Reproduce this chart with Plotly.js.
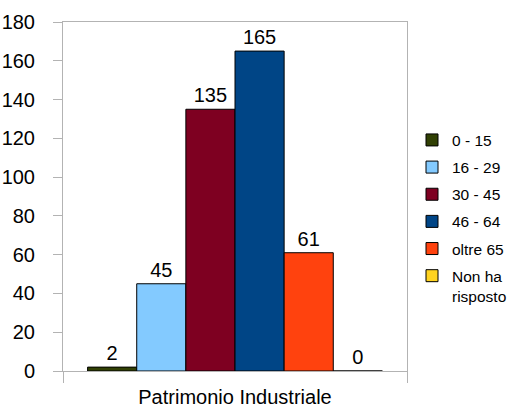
<!DOCTYPE html>
<html>
<head>
<meta charset="utf-8">
<script src="https://cdn.plot.ly/plotly-3.0.1.min.js"></script>
<style>html,body{margin:0;padding:0;background:#fff;}#chart{width:515px;height:412px;}</style>
</head>
<body>
<div id="chart"></div>
<script>
const categories = ["Patrimonio Industriale"];
const seriesNames = ["0 - 15", "16 - 29", "30 - 45", "46 - 64", "oltre 65", "Non ha<br>risposto"];
const seriesValues = [2, 45, 135, 165, 61, 0];
const seriesColors = ["#314004", "#83caff", "#7e0021", "#004586", "#ff420e", "#ffd320"];
const yTicks = [0, 20, 40, 60, 80, 100, 120, 140, 160, 180];

const FONT = "Liberation Sans, Arial, sans-serif";

const traces = seriesNames.map((name, i) => ({
  type: "bar",
  name: name,
  x: categories,
  y: [seriesValues[i]],
  text: [String(seriesValues[i])],
  textposition: "outside",
  textfont: {family: FONT, size: 20, color: "#000"},
  cliponaxis: false,
  legendgroup: "g" + i,
  marker: {color: seriesColors[i], line: {color: "#000", width: 1}},
  hoverinfo: "none"
}));

const layout = {
  width: 515,
  height: 412,
  margin: {l: 63, r: 108, t: 22, b: 41, autoexpand: false},
  paper_bgcolor: "#fff",
  plot_bgcolor: "#fff",
  font: {family: FONT, size: 20, color: "#000"},
  barmode: "group",
  bargap: 0.143,
  bargroupgap: 0,
  showlegend: true,
  legend: {
    xref: "container", yref: "container",
    x: 0.80, xanchor: "left",
    y: 0.47, yanchor: "middle",
    valign: "top",
    font: {family: FONT, size: 15.5, color: "#000"},
    tracegroupgap: 4,
    itemwidth: 30,
    bgcolor: "rgba(0,0,0,0)"
  },
  xaxis: {
    type: "category",
    showline: true, linecolor: "#b3b3b3", linewidth: 1, mirror: true,
    ticks: "outside", tickson: "boundaries", ticklen: 11, tickcolor: "#b3b3b3",
    ticklabelstandoff: 8,
    tickfont: {family: FONT, size: 20, color: "#000"},
    showgrid: false, zeroline: false
  },
  yaxis: {
    range: [0, 180],
    tickvals: yTicks,
    ticktext: yTicks.map(String),
    showline: true, linecolor: "#b3b3b3", linewidth: 1, mirror: true,
    ticks: "outside", ticklen: 9, tickcolor: "#b3b3b3",
    ticklabelstandoff: 14,
    tickfont: {family: FONT, size: 20, color: "#000"},
    showgrid: false, zeroline: false
  }
};

Plotly.newPlot("chart", traces, layout, {displayModeBar: false, staticPlot: true});
</script>
</body>
</html>
